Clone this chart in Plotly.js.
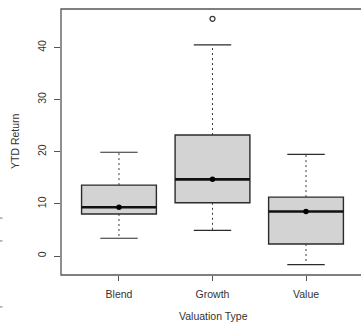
<!DOCTYPE html>
<html>
<head>
<meta charset="utf-8">
<script src="https://cdn.plot.ly/plotly-3.0.1.min.js"></script>
<style>html,body{margin:0;padding:0;background:#fff;}#chart{width:361px;height:324px;}</style>
</head>
<body>
<div id="chart"></div>
<script>
var categories = ['Blend', 'Growth', 'Value'];
var lowerWhisker = [3.4, 4.9, -1.65];
var q1 = [8.06, 10.2, 2.3];
var medians = [9.34, 14.7, 8.55];
var q3 = [13.6, 23.2, 11.3];
var upperWhisker = [19.9, 40.5, 19.5];
var means = [9.34, 14.7, 8.55];
var outlierCategory = ['Growth'];
var outlierValues = [45.5];
var yTicks = [0, 10, 20, 30, 40];
var xTitle = 'Valuation Type';
var yTitle = 'YTD Return';

var pos = categories.map(function (c, i) { return i + 1; });
var halfBox = 0.4, halfCap = 0.2;
var lineCol = '#2b2b2b';

var medX = [], medY = [], whX = [], whY = [], capX = [], capY = [];
pos.forEach(function (p, i) {
  medX.push(p - halfBox, p + halfBox, null); medY.push(medians[i], medians[i], null);
  whX.push(p, p, null, p, p, null);
  whY.push(q3[i], upperWhisker[i], null, q1[i], lowerWhisker[i], null);
  capX.push(p - halfCap, p + halfCap, null, p - halfCap, p + halfCap, null);
  capY.push(upperWhisker[i], upperWhisker[i], null, lowerWhisker[i], lowerWhisker[i], null);
});

var traces = [
  {x: whX, y: whY, mode: 'lines', line: {color: '#3a3a3a', width: 1, dash: '2px,3px'}, hoverinfo: 'skip', showlegend: false},
  {x: capX, y: capY, mode: 'lines', line: {color: lineCol, width: 1.2}, hoverinfo: 'skip', showlegend: false},
  {x: medX, y: medY, mode: 'lines', line: {color: '#111', width: 2.6}, hoverinfo: 'skip', showlegend: false},
  {x: pos, y: means, mode: 'markers', marker: {color: '#000', size: 5.5, symbol: 'circle'}, hoverinfo: 'skip', showlegend: false},
  {x: outlierCategory.map(function (c) { return categories.indexOf(c) + 1; }), y: outlierValues, mode: 'markers',
   marker: {color: '#333', size: 5, symbol: 'circle-open', line: {color: '#333', width: 1.2}}, hoverinfo: 'skip', showlegend: false}
];

var shapes = pos.map(function (p, i) {
  return {type: 'rect', xref: 'x', yref: 'y', x0: p - halfBox, x1: p + halfBox, y0: q1[i], y1: q3[i],
          fillcolor: '#d3d3d3', line: {color: lineCol, width: 1.4}, layer: 'below'};
});
shapes.push({type: 'rect', xref: 'paper', yref: 'paper', x0: 0, x1: 1.05, y0: 0, y1: 1,
             line: {color: '#555', width: 1.3}, fillcolor: 'rgba(0,0,0,0)'});
// small stray marks at the left edge of the picture
[0.214, 0.128, -0.12].forEach(function (yy) {
  shapes.push({type: 'line', xref: 'paper', yref: 'paper', x0: -0.2033, x1: -0.195, y0: yy, y1: yy,
               line: {color: '#777', width: 1}});
});

var font = {family: 'Liberation Sans, Arial, sans-serif', size: 10.5, color: '#333'};

var layout = {
  width: 361, height: 324,
  margin: {l: 61, r: 0, t: 9, b: 49},
  paper_bgcolor: '#fff', plot_bgcolor: '#fff',
  font: font,
  showlegend: false,
  xaxis: {
    range: [0.38, 3.588], tickvals: pos, ticktext: categories,
    ticks: 'outside', ticklen: 5, tickcolor: '#555', tickwidth: 1,
    showgrid: false, zeroline: false, showline: false,
    tickfont: font, ticklabelstandoff: 4, automargin: false
  },
  yaxis: {
    range: [-3.645, 47.38], tickvals: yTicks, ticktext: yTicks.map(String),
    ticks: 'outside', ticklen: 6, tickcolor: '#555', tickwidth: 1, tickangle: -90,
    showgrid: false, zeroline: false, showline: false,
    tickfont: font, ticklabelstandoff: 4, automargin: false
  },
  annotations: [
    {text: xTitle, xref: 'paper', yref: 'paper', x: 0.507, y: -0.155, xanchor: 'center', yanchor: 'middle',
     showarrow: false, font: font},
    {text: yTitle, xref: 'paper', yref: 'paper', x: -0.153, y: 0.504, xanchor: 'center', yanchor: 'middle',
     textangle: -90, showarrow: false, font: font}
  ],
  shapes: shapes
};

Plotly.newPlot('chart', traces, layout, {displayModeBar: false, staticPlot: true});
</script>
</body>
</html>
